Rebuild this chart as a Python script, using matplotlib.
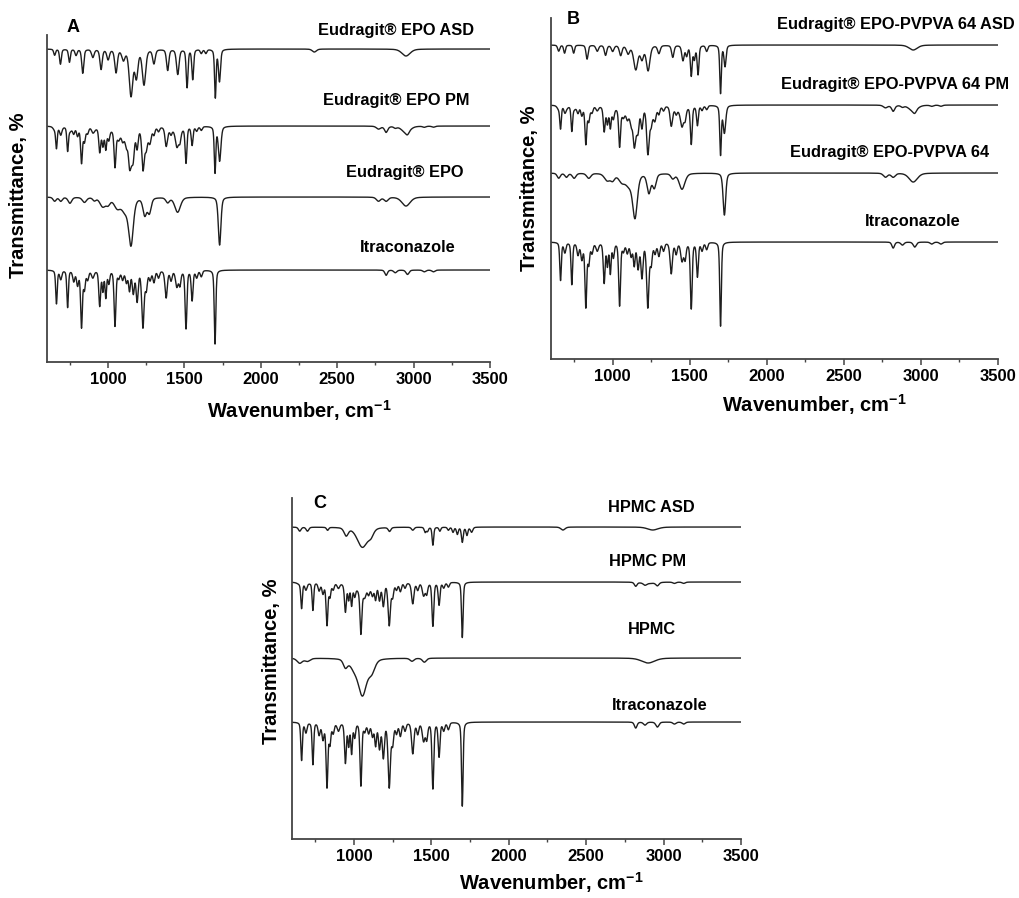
import numpy as np
import matplotlib
matplotlib.use("Agg")
import matplotlib.pyplot as plt
from matplotlib.ticker import MultipleLocator

plt.rcParams['font.family'] = ['Liberation Sans', 'DejaVu Sans']
plt.rcParams['font.weight'] = 'bold'
plt.rcParams['mathtext.fontset'] = 'custom'
plt.rcParams['mathtext.rm'] = 'Liberation Sans:bold'
plt.rcParams['mathtext.bf'] = 'Liberation Sans:bold'

# ---------------------------------------------------------------- band tables
# each spectrum: band centre (cm-1), band depth (offset units), half width (cm-1)
itra_c = [662, 690, 735, 775, 800, 826, 845, 866, 900, 945, 966, 985, 1005,
          1045, 1070, 1095, 1120, 1140, 1165, 1190, 1228, 1250, 1275, 1300,
          1330, 1380, 1412, 1450, 1470, 1510, 1550, 1580, 1610, 1700,
          2820, 2880, 2960, 3070, 3130]
itra_d = [38, 10, 42, 12, 16, 64, 20, 10, 8, 40, 22, 30, 14,
          63, 8, 10, 13, 22, 25, 34, 64, 20, 10, 13,
          8, 31, 11, 18, 16, 66, 34, 8, 7, 84,
          6, 3, 5, 2, 2]
itra_w = [6, 8, 6, 8, 8, 7, 7, 8, 10, 7, 6, 6, 7,
          7, 8, 8, 8, 7, 8, 8, 9, 8, 8, 8,
          8, 9, 8, 10, 8, 7, 7, 8, 8, 6,
          10, 12, 12, 12, 12]

epo_c = [650, 690, 750, 845, 910, 965, 1000, 1060, 1110, 1150, 1240, 1270,
         1390, 1455, 1730, 2770, 2820, 2950]
epo_d = [4, 4, 6, 5, 3, 9, 6, 10, 12, 46, 17, 15, 5, 15, 48, 4, 4, 9]
epo_w = [12, 12, 14, 16, 12, 22, 16, 25, 25, 18, 14, 14, 14, 22, 10, 16, 16,
         32]

epo_asd_c = [650, 688, 747, 790, 834, 900, 954, 1000, 1052, 1100, 1150, 1185,
             1235, 1300, 1390, 1456, 1517, 1554, 1610, 1640, 1702, 1729,
             2350, 2950]
epo_asd_d = [6, 15, 13, 6, 24, 8, 20, 10, 23, 10, 46, 27,
             35, 14, 21, 25, 38, 30, 4, 4, 48, 32,
             3, 7]
epo_asd_w = [7, 7, 7, 8, 8, 10, 9, 10, 10, 12, 14, 12,
             13, 10, 9, 10, 7, 7, 8, 8, 6, 8,
             16, 32]

pvpva_c = [650, 700, 750, 845, 965, 1000, 1060, 1105, 1145, 1235, 1270,
           1390, 1450, 1725, 2770, 2820, 2950]
pvpva_d = [5, 4, 5, 5, 7, 6, 8, 10, 43, 19, 14, 5, 16, 42, 4, 4, 9]
pvpva_w = [12, 12, 14, 16, 22, 16, 25, 25, 18, 14, 14, 14, 22, 10, 16, 16,
           32]

pvpva_asd_c = [650, 688, 747, 834, 900, 954, 1000, 1052, 1100, 1150, 1190,
               1230, 1300, 1390, 1456, 1480, 1510, 1530, 1554, 1610, 1700,
               1729, 2950]
pvpva_asd_d = [6, 8, 8, 14, 6, 10, 6, 10, 8, 24, 13, 25, 8, 12, 15, 10, 30,
               13, 29, 6, 48, 21, 5]
pvpva_asd_w = [8, 7, 7, 8, 10, 9, 10, 10, 12, 16, 12, 14, 10, 9, 9, 8, 7, 7,
               7, 8, 6, 8, 32]

hpmc_c = [650, 700, 945, 1000, 1055, 1115, 1375, 1455, 2900]
hpmc_d = [5, 3, 8, 8, 36, 12, 3, 4, 5]
hpmc_w = [20, 20, 16, 30, 32, 25, 15, 15, 50]

hpmc_asd_c = [650, 700, 830, 950, 1055, 1110, 1230, 1380, 1460, 1475, 1510,
              1555, 1610, 1640, 1668, 1700, 1730, 1760, 2350, 2930]
hpmc_asd_d = [4, 4, 3, 8, 20, 6, 4, 3, 5, 4, 18, 4, 3, 5, 7, 15, 8, 5, 3, 3]
hpmc_asd_w = [10, 10, 8, 16, 40, 20, 10, 10, 7, 7, 6, 7, 7, 7, 7, 7, 7, 9,
              16, 40]

# itraconazole band scaling per panel and physical-mixture fractions
itra_scale = {'A': 0.88, 'B': 1.0, 'C': 1.0}
pm_fraction = {'A': (0.62, 0.72), 'B': (0.58, 0.65), 'C': (0.66, 0.28)}

# baseline offsets (top to bottom) and label placement
offsets = {'A': [313, 236, 165, 92], 'B': [314, 254, 186, 117],
           'C': [312, 257, 181, 117]}
labels = {
    'A': ['Eudragit® EPO ASD', 'Eudragit® EPO PM', 'Eudragit® EPO',
          'Itraconazole'],
    'B': ['Eudragit® EPO-PVPVA 64 ASD', 'Eudragit® EPO-PVPVA 64 PM',
          'Eudragit® EPO-PVPVA 64', 'Itraconazole'],
    'C': ['HPMC ASD', 'HPMC PM', 'HPMC', 'Itraconazole'],
}
label_x = {'A': [2885, 2885, 2940, 2960], 'B': [2840, 2830, 2797, 2947],
           'C': [2922, 2898, 2922, 2977]}
label_y = {'A': [332, 262, 190, 114], 'B': [334, 274, 206, 137],
           'C': [332, 277, 209, 134]}

wn = np.arange(600, 3501, 1.0)


def bands(c, d, w):
    c = np.asarray(c, float)[None, :]
    d = np.asarray(d, float)[None, :]
    w = np.asarray(w, float)[None, :]
    dx = wn[:, None] - c
    lor = w ** 2 / (dx ** 2 + w ** 2)
    gau = np.exp(-np.log(2) * dx ** 2 / w ** 2)
    return (d * (0.4 * lor + 0.6 * gau)).sum(axis=1)


itra = bands(itra_c, itra_d, itra_w)
polymer = {'A': bands(epo_c, epo_d, epo_w),
           'B': bands(pvpva_c, pvpva_d, pvpva_w),
           'C': bands(hpmc_c, hpmc_d, hpmc_w)}
asd = {'A': bands(epo_asd_c, epo_asd_d, epo_asd_w),
       'B': bands(pvpva_asd_c, pvpva_asd_d, pvpva_asd_w),
       'C': bands(hpmc_asd_c, hpmc_asd_d, hpmc_asd_w)}

W, H = 1020, 898
fig = plt.figure(figsize=(W / 100, H / 100), dpi=100)
boxes = {'A': (47, 490, 362, 35), 'B': (551, 998, 359, 18),
         'C': (292, 741, 839, 498)}
xlab_pos = {'A': (0.57, -0.147), 'B': (0.59, -0.135), 'C': (0.578, -0.129)}
ylab_pos = {'A': (-0.065, 0.51), 'B': (-0.048, 0.50), 'C': (-0.045, 0.52)}
letter_pos = {'A': (768, 335), 'B': (746, 339), 'C': (781, 336)}

for key, (l, r, b, t) in boxes.items():
    ax = fig.add_axes([l / W, (H - b) / H, (r - l) / W, (b - t) / H])
    ax.set_xlim(600, 3500)
    ax.set_ylim(0, b - t)
    k = itra_scale[key]
    f_drug, f_poly = pm_fraction[key]
    curves = [asd[key],
              f_drug * k * itra + f_poly * polymer[key],
              polymer[key],
              k * itra]
    for off, cur, txt, lx, ly in zip(offsets[key], curves, labels[key],
                                     label_x[key], label_y[key]):
        ax.plot(wn, off - cur, color='#1e1e1e', lw=1.0)
        ax.text(lx, ly, txt, ha='center', va='center', fontsize=11.8,
                fontweight='bold', clip_on=False)
    ax.text(*letter_pos[key], key, ha='center', va='center', fontsize=13,
            fontweight='bold', clip_on=False)

    for s in ('top', 'right'):
        ax.spines[s].set_visible(False)
    for s in ('left', 'bottom'):
        ax.spines[s].set_color('#444444')
        ax.spines[s].set_linewidth(1.3)
    ax.set_yticks([])
    ax.xaxis.set_major_locator(MultipleLocator(500))
    ax.xaxis.set_minor_locator(MultipleLocator(250))
    ax.set_xticks([1000, 1500, 2000, 2500, 3000, 3500])
    ax.tick_params(axis='x', which='major', direction='out', length=4,
                   width=1.1, color='#444444', labelsize=12, pad=3)
    ax.tick_params(axis='x', which='minor', direction='out', length=2.5,
                   width=1.0, color='#444444')
    for lab in ax.get_xticklabels():
        lab.set_fontweight('bold')
    ax.set_xlabel(r'Wavenumber, cm$^{\mathbf{-1}}$', fontsize=14.5,
                  fontweight='bold', va='center')
    ax.xaxis.set_label_coords(*xlab_pos[key])
    ax.set_ylabel('Transmittance, %', fontsize=14.5, fontweight='bold',
                  va='center')
    ax.yaxis.set_label_coords(*ylab_pos[key])

fig.savefig('out.png', dpi=100)
